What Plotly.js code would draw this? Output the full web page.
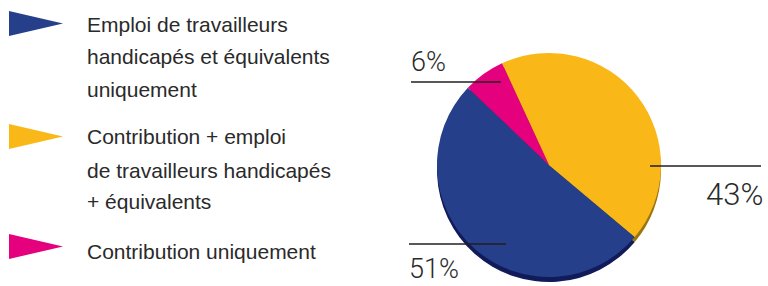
<!DOCTYPE html>
<html>
<head>
<meta charset="utf-8">
<script src="https://cdn.plot.ly/plotly-3.0.1.min.js"></script>
<style>html,body{margin:0;padding:0;background:#fff;}#chart{width:768px;height:286px;}</style>
</head>
<body>
<div id="chart"></div>
<script>
// ---- data ----
var categories = [
  "Emploi de travailleurs handicapés et équivalents uniquement",
  "Contribution + emploi de travailleurs handicapés + équivalents",
  "Contribution uniquement"
];
var legendLines = [
  ["Emploi de travailleurs", "handicapés et équivalents", "uniquement"],
  ["Contribution + emploi", "de travailleurs handicapés", "+ équivalents"],
  ["Contribution uniquement"]
];
var values = [51, 43, 6];
var colors = ["#253F8A", "#F9B817", "#E5007E"];
var shadowColors = ["#111B5A", "#9C7410", "#8A0050"];

// ---- layout helpers (pixel -> paper) ----
var W = 768, H = 286;
function px(x) { return x / W; }
function py(y) { return 1 - y / H; }

var cx = 549, cy = 165, r = 112, shadowDy = 5;

var pieBase = {
  type: "pie",
  values: values,
  labels: categories,
  sort: false,
  direction: "counterclockwise",
  rotation: 130,
  textinfo: "none",
  hoverinfo: "skip",
  showlegend: false
};

var shadow = Object.assign({}, pieBase, {
  marker: { colors: shadowColors, line: { width: 0 } },
  domain: { x: [px(cx - r), px(cx + r)], y: [py(cy + shadowDy + r), py(cy + shadowDy - r)] }
});
var main = Object.assign({}, pieBase, {
  marker: { colors: colors, line: { width: 0 } },
  domain: { x: [px(cx - r), px(cx + r)], y: [py(cy + r), py(cy - r)] }
});

var shapes = [];
var annotations = [];
var textColor = "#2a2a2a";
var legendFont = { family: "Liberation Sans, Arial, sans-serif", size: 21, color: textColor };

// legend: pennant markers + text lines
var legendTop = [11, 124, 234];
var lineBaselines = [[31, 63, 95], [143, 176, 207], [257]];
for (var i = 0; i < categories.length; i++) {
  var t = legendTop[i];
  shapes.push({
    type: "path", xref: "paper", yref: "paper",
    path: "M " + px(9) + " " + py(t) + " L " + px(63) + " " + py(t + 12.5) + " L " + px(9) + " " + py(t + 25) + " Z",
    fillcolor: colors[i], line: { width: 0 }
  });
  for (var j = 0; j < legendLines[i].length; j++) {
    annotations.push({
      xref: "paper", yref: "paper", x: px(85), y: py(lineBaselines[i][j] - 6),
      xanchor: "left", yanchor: "middle", showarrow: false,
      text: legendLines[i][j], font: legendFont
    });
  }
}

// percentage labels with leader lines
var pctFont = "Roboto, Liberation Sans Narrow, sans-serif";
var leaders = [
  { x0: 409, x1: 506, y: 244, tx: 408, ty: 286, yanchor: "bottom", anchor: "left", size: 27 },
  { x0: 650, x1: 761, y: 166, tx: 764, ty: 194, yanchor: "middle", anchor: "right", size: 31 },
  { x0: 411, x1: 501, y: 82, tx: 410, ty: 62, yanchor: "middle", anchor: "left", size: 27 }
];
for (var k = 0; k < values.length; k++) {
  var L = leaders[k];
  shapes.push({
    type: "line", xref: "paper", yref: "paper",
    x0: px(L.x0), x1: px(L.x1), y0: py(L.y), y1: py(L.y),
    line: { color: "#231f20", width: 1.5 }
  });
  annotations.push({
    xref: "paper", yref: "paper", x: px(L.tx), y: py(L.ty),
    xanchor: L.anchor, yanchor: L.yanchor, showarrow: false, borderpad: 0,
    text: values[k] + "%",
    font: { family: pctFont, size: L.size, color: textColor, weight: 300 }
  });
}

var layout = {
  width: W, height: H,
  margin: { l: 0, r: 0, t: 0, b: 0 },
  paper_bgcolor: "#ffffff",
  showlegend: false,
  shapes: shapes,
  annotations: annotations
};

Plotly.newPlot("chart", [shadow, main], layout, { staticPlot: true, displayModeBar: false });
</script>
</body>
</html>
